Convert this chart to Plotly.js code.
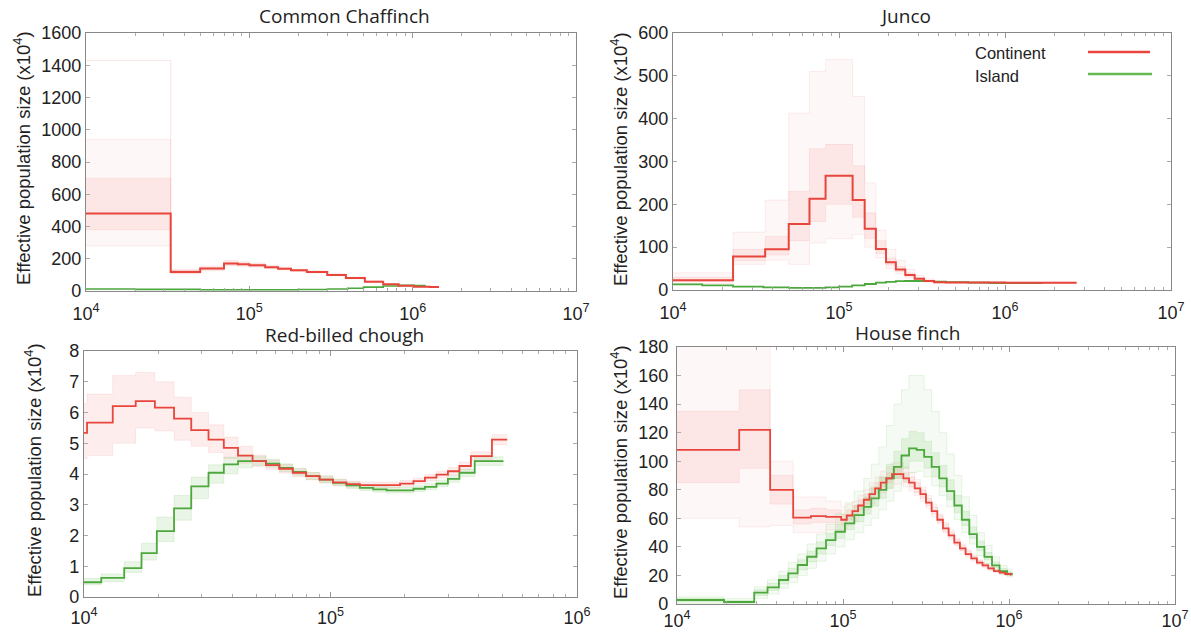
<!DOCTYPE html>
<html>
<head>
<meta charset="utf-8">
<script src="https://cdn.plot.ly/plotly-3.0.1.min.js"></script>
<style>html,body{margin:0;padding:0;background:#fff;}#chart{width:1191px;height:634px;}</style>
</head>
<body>
<div id="chart"></div>
<script>
// ---------- Panel titles / labels ----------
var panelTitles = ["Common Chaffinch", "Junco", "Red-billed chough", "House finch"];
var yTitle = "Effective population size (x10<sup>4</sup>)";
var seriesNames = ["Continent", "Island"];
var xTickVals4 = [1e4, 1e5, 1e6, 1e7];
var xTickText4 = ["10<sup>4</sup>", "10<sup>5</sup>", "10<sup>6</sup>", "10<sup>7</sup>"];
var xTickVals3 = [1e4, 1e5, 1e6];
var xTickText3 = ["10<sup>4</sup>", "10<sup>5</sup>", "10<sup>6</sup>"];

// ---------- Common Chaffinch ----------
var chRedT  = [1e4, 33000, 50000, 70000, 85000, 100000, 125000, 150000, 180000, 225000, 300000, 390000, 510000, 660000, 820000, 1020000, 1270000, 1450000];
var chRedV  = [481, 118, 139, 170, 166, 160, 148, 138, 128, 118, 100, 80, 58, 42, 32, 27, 25, 25];
var chRedLo = [280, 105, 125, 155, 152, 148, 138, 130, 121, 111, 94, 75, 54, 39, 30, 25, 23, 23];
var chRedHi = [940, 135, 155, 190, 182, 174, 160, 148, 137, 126, 107, 86, 63, 46, 35, 30, 28, 28];
var chRedLo2 = [380, 110, 130, 160, 158, 152, 142, 133, 124, 114, 97, 77, 56, 40, 31, 26, 24, 24];
var chRedHi2 = [700, 128, 148, 180, 175, 168, 155, 143, 133, 122, 104, 83, 61, 44, 34, 28.5, 26, 26];
var chRedOutT = [1e4, 33000, 50000];
var chRedOutV = [1430, 125, 125];
var chGreenT = [1e4, 20000, 50000, 100000, 200000, 300000, 400000, 500000, 660000, 820000, 1020000, 1200000];
var chGreenV = [12, 10, 8, 8, 9, 12, 17, 24, 31, 35, 34, 34];

// ---------- Junco ----------
var juRedT  = [1e4, 23000, 35900, 49800, 66400, 83000, 120800, 142800, 166800, 192000, 220000, 250700, 285600, 325300, 374000, 440000, 1000000, 2700000];
var juRedV  = [23, 78, 95, 154, 213, 267, 210, 143, 96, 65, 48, 35, 26.5, 21, 18, 17.5, 17, 17];
var juRedLo = [15, 60, 70, 60, 110, 120, 130, 100, 75, 50, 38, 28, 22, 18, 16, 15.5, 15.5, 15.5];
var juRedHi = [40, 135, 210, 413, 510, 538, 452, 250, 140, 95, 70, 48, 34, 26, 21, 19.5, 18.5, 18.5];
var juRedLo2 = [20, 68, 82, 115, 160, 200, 170, 120, 85, 58, 43, 32, 24, 19.5, 17, 16.5, 16, 16];
var juRedHi2 = [30, 95, 125, 230, 330, 340, 290, 180, 115, 75, 55, 40, 29, 23, 19.5, 18.5, 18, 18];
var juGreenT = [1e4, 15000, 23000, 35000, 50000, 66000, 83000, 100000, 120000, 143000, 167000, 192000, 220000, 250000, 286000, 325000, 374000, 440000, 600000, 800000, 1100000, 1670000];
var juGreenV = [13, 11, 8, 6, 5, 5, 6, 8, 11, 14, 17, 19, 20.5, 21, 21, 20.5, 19.5, 18.5, 17, 16, 16, 16.5];

// ---------- Red-billed chough ----------
var rbRedT  = [1e4, 10290, 13080, 16210, 19390, 23190, 27230, 32000, 36920, 42150, 48290, 54720, 62020, 70290, 79660, 90290, 102300, 116000, 131500, 149000, 168900, 191500, 217000, 241600, 269000, 299500, 333400, 371200, 451800, 521400];
var rbRedV  = [5.34, 5.67, 6.21, 6.37, 6.16, 5.80, 5.43, 5.12, 4.85, 4.60, 4.42, 4.29, 4.17, 4.04, 3.93, 3.82, 3.73, 3.67, 3.64, 3.64, 3.64, 3.69, 3.77, 3.88, 3.98, 4.09, 4.26, 4.58, 5.12, 5.12];
var rbRedLo = [4.5, 4.6, 5.0, 5.5, 5.4, 5.1, 4.9, 4.7, 4.5, 4.35, 4.25, 4.15, 4.03, 3.91, 3.81, 3.71, 3.63, 3.57, 3.55, 3.55, 3.55, 3.60, 3.68, 3.78, 3.87, 3.97, 4.13, 4.44, 4.95, 4.95];
var rbRedHi = [6.3, 6.6, 7.2, 7.3, 7.0, 6.5, 6.0, 5.6, 5.2, 4.9, 4.62, 4.45, 4.31, 4.17, 4.05, 3.94, 3.84, 3.77, 3.74, 3.74, 3.74, 3.79, 3.87, 3.98, 4.09, 4.21, 4.39, 4.72, 5.28, 5.28];
var rbGreenT  = [1e4, 11750, 14560, 17110, 19740, 23190, 27230, 32000, 36920, 42150, 48290, 54720, 62020, 70290, 79660, 90290, 102300, 116000, 131500, 149000, 168900, 191500, 217000, 241600, 269000, 299500, 333400, 384600, 503000];
var rbGreenV  = [0.48, 0.62, 0.94, 1.43, 2.14, 2.88, 3.60, 4.04, 4.31, 4.42, 4.42, 4.34, 4.20, 4.07, 3.93, 3.82, 3.71, 3.63, 3.55, 3.50, 3.47, 3.47, 3.52, 3.58, 3.69, 3.84, 4.04, 4.42, 4.42];
var rbGreenLo = [0.4, 0.5, 0.8, 1.2, 1.8, 2.5, 3.2, 3.7, 4.0, 4.2, 4.28, 4.22, 4.08, 3.96, 3.82, 3.71, 3.61, 3.53, 3.46, 3.41, 3.38, 3.38, 3.43, 3.49, 3.59, 3.73, 3.92, 4.28, 4.28];
var rbGreenHi = [0.6, 0.75, 1.15, 1.75, 2.6, 3.3, 3.9, 4.3, 4.55, 4.62, 4.58, 4.48, 4.33, 4.19, 4.05, 3.93, 3.82, 3.74, 3.65, 3.6, 3.57, 3.57, 3.62, 3.68, 3.8, 3.95, 4.16, 4.56, 4.56];

// ---------- House finch ----------
var hfRedT  = [1e4, 23700, 36400, 50100, 64100, 79000, 97500, 105400, 114000, 123300, 133400, 144300, 156100, 168800, 182600, 197500, 213600, 231000, 249900, 270300, 292400, 316200, 342000, 369900, 400100, 432800, 468100, 506300, 547700, 592400, 640700, 693000, 749600, 810800, 877000, 948500, 1026000];
var hfRedV  = [108, 122, 80, 60.5, 61.5, 61, 59, 62, 65, 69, 73, 77, 81, 85, 88, 91, 91, 88, 85, 81, 77, 71, 65, 59, 53, 48, 43, 39, 35, 32, 29, 27, 25, 23, 22, 21, 20];
var hfRedLo = [60, 54, 55, 50, 50, 52, 52, 55, 58, 62, 66, 70, 74, 78, 81, 84, 84, 82, 79, 76, 72, 67, 61, 56, 50, 45, 41, 37, 33, 30, 27.5, 25.5, 23.5, 22, 21, 20, 19];
var hfRedHi = [200, 200, 100, 75, 75, 72, 68, 70, 72, 76, 80, 85, 89, 93, 96, 99, 99, 96, 92, 87, 82, 76, 70, 63, 57, 52, 46, 42, 38, 34, 31, 28.5, 26.5, 24.5, 23, 22, 21];
var hfRedLo2 = [85, 95, 70, 56, 57, 57, 56, 59, 62, 66, 70, 74, 78, 82, 85, 88, 88, 85, 82, 78, 74, 69, 63, 57, 51, 46.5, 41.5, 37.5, 34, 31, 28, 26, 24, 22.5, 21.5, 20.5, 19.5];
var hfRedHi2 = [135, 150, 90, 66, 67, 66, 63, 66, 69, 73, 77, 81, 85, 89, 92, 95, 95, 92, 89, 85, 80, 74, 68, 62, 56, 50.5, 45, 41, 37, 33.5, 30.5, 28, 26, 24, 22.5, 21.5, 20.5];
var hfGreenT  = [1e4, 19200, 29200, 35100, 41100, 46800, 53300, 60800, 69300, 79000, 90100, 102700, 117000, 133400, 148000, 164300, 182600, 202600, 225000, 249900, 277500, 308200, 342000, 380000, 421800, 468100, 519600, 576700, 640700, 711000, 790000, 877000, 974000, 1054000];
var hfGreenV  = [2.8, 1.4, 7.9, 11.7, 16.8, 21.4, 27.3, 33.1, 38.9, 44.8, 50.6, 56.4, 62.3, 68, 74, 80, 88, 96, 104, 109, 108, 103, 96, 88, 79, 69, 59, 49, 40, 33, 27, 23, 21, 21];
var hfGreenLo = [0.5, 0, 4, 7, 11, 15, 20, 25, 30, 35, 40, 45, 50, 55, 60, 66, 72, 79, 86, 92, 93, 89, 83, 76, 68, 59, 50, 42, 34, 28, 24, 20.5, 19, 19];
var hfGreenHi = [5, 4, 12, 17, 23, 29, 35, 42, 49, 56, 63, 71, 79, 88, 98, 110, 125, 140, 150, 160, 160, 150, 135, 120, 105, 90, 75, 62, 50, 41, 33, 27, 24, 24];
var hfGreenLo2 = [1.5, 0.8, 6, 9.5, 14, 18.5, 24, 29.5, 35, 41, 46, 52, 57.5, 63, 68.5, 74, 81, 88, 95, 100, 100, 95, 89, 82, 73, 64, 55, 46, 37.5, 31, 25.5, 22, 20, 20];
var hfGreenHi2 = [4, 2.5, 10, 14.5, 20, 25, 31, 37, 43.5, 49.5, 56, 62, 69, 75, 82, 89, 98, 107, 116, 121, 120, 114, 106, 97, 87, 76, 65, 54, 44, 36, 29.5, 25, 22.5, 22.5];

// ---------- styling ----------
var RED = "rgb(232,70,60)", GREEN = "rgb(76,168,60)";
var RED_FILL_OUT = "rgba(245,120,120,0.06)", RED_FILL_IN = "rgba(240,110,110,0.12)", RED_EDGE = "rgba(240,120,120,0.22)";
var GREEN_FILL_OUT = "rgba(120,200,100,0.07)", GREEN_FILL_IN = "rgba(110,190,90,0.15)", GREEN_EDGE = "rgba(120,200,100,0.28)";

var traces = [];
function step(t, v, ax, color, width) {
  traces.push({x: t, y: v, xaxis: "x" + ax, yaxis: "y" + ax, mode: "lines", type: "scatter",
    line: {shape: "hv", color: color, width: width}, hoverinfo: "skip", showlegend: false});
}
function band(t, lo, hi, ax, fill, edge) {
  traces.push({x: t, y: lo, xaxis: "x" + ax, yaxis: "y" + ax, mode: "lines", type: "scatter",
    line: {shape: "hv", color: edge, width: 0.6}, hoverinfo: "skip", showlegend: false});
  traces.push({x: t, y: hi, xaxis: "x" + ax, yaxis: "y" + ax, mode: "lines", type: "scatter", fill: "tonexty", fillcolor: fill,
    line: {shape: "hv", color: edge, width: 0.6}, hoverinfo: "skip", showlegend: false});
}

// Panel 1
band(chRedT, chRedLo, chRedHi, "", RED_FILL_OUT, RED_EDGE);
band(chRedT, chRedLo2, chRedHi2, "", RED_FILL_IN, RED_EDGE);
step(chRedOutT, chRedOutV, "", "rgba(240,130,130,0.3)", 0.7);
step(chGreenT, chGreenV, "", GREEN, 1.6);
step(chRedT, chRedV, "", RED, 2);
// Panel 2
band(juRedT, juRedLo, juRedHi, "2", RED_FILL_OUT, RED_EDGE);
band(juRedT, juRedLo2, juRedHi2, "2", RED_FILL_IN, RED_EDGE);
step(juGreenT, juGreenV, "2", GREEN, 1.8);
step(juRedT, juRedV, "2", RED, 2);
// Panel 3
band(rbRedT, rbRedLo, rbRedHi, "3", RED_FILL_IN, RED_EDGE);
band(rbGreenT, rbGreenLo, rbGreenHi, "3", GREEN_FILL_IN, GREEN_EDGE);
step(rbGreenT, rbGreenV, "3", GREEN, 1.8);
step(rbRedT, rbRedV, "3", RED, 1.8);
// Panel 4
band(hfRedT, hfRedLo, hfRedHi, "4", RED_FILL_OUT, RED_EDGE);
band(hfRedT, hfRedLo2, hfRedHi2, "4", RED_FILL_IN, RED_EDGE);
band(hfGreenT, hfGreenLo, hfGreenHi, "4", GREEN_FILL_OUT, GREEN_EDGE);
band(hfGreenT, hfGreenLo2, hfGreenHi2, "4", GREEN_FILL_IN, GREEN_EDGE);
step(hfGreenT, hfGreenV, "4", GREEN, 1.8);
step(hfRedT, hfRedV, "4", RED, 1.8);

// ---------- layout ----------
var W = 1191, H = 634;
function dx(a, b) { return [a / W, b / W]; }
function dy(top, bottom) { return [1 - bottom / H, 1 - top / H]; }
function minorVals(lo, hi) {
  var out = [];
  for (var e = lo; e < hi; e++) for (var m = 2; m <= 9; m++) out.push(m * Math.pow(10, e));
  return out;
}
var tickFont = {family: "Liberation Sans, Arial, sans-serif", size: 18, color: "#222"};
function xaxis(domain, anchor, maxExp, vals, text, standoff) {
  return {type: "log", domain: domain, anchor: anchor, range: [4, maxExp], tickmode: "array", tickvals: vals, ticktext: text,
    ticks: "inside", ticklen: 5, tickcolor: "#999", showline: true, linecolor: "#888", linewidth: 1.2, mirror: "allticks",
    showgrid: false, zeroline: false, tickfont: tickFont, ticklabelstandoff: standoff,
    minor: {tickmode: "array", tickvals: minorVals(4, maxExp), ticks: "inside", ticklen: 3, tickcolor: "#aaa", showgrid: false}};
}
function yaxis(domain, anchor, max, dtick, standoff) {
  return {domain: domain, anchor: anchor, range: [0, max], dtick: dtick, tick0: 0,
    ticks: "inside", ticklen: 4, tickcolor: "#aaa", showline: true, linecolor: "#888", linewidth: 1.2, mirror: "allticks",
    showgrid: false, zeroline: false, tickfont: tickFont, ticklabelstandoff: standoff};
}

var titleFont = {family: "Open Sans, Noto Sans, sans-serif", size: 19, color: "#222"};
var ytFont = {family: "Liberation Sans, Arial, sans-serif", size: 18.5, color: "#222"};
var legFont = {family: "Liberation Sans, Arial, sans-serif", size: 16.5, color: "#222"};
var annotations = [
  {text: panelTitles[0], x: 344 / W, y: 1 - 16 / H},
  {text: panelTitles[1], x: 906 / W, y: 1 - 16 / H},
  {text: panelTitles[2], x: 344 / W, y: 1 - 335 / H},
  {text: panelTitles[3], x: 907 / W, y: 1 - 333 / H}
].map(function (a) { return Object.assign(a, {xref: "paper", yref: "paper", showarrow: false, font: titleFont, xanchor: "center", yanchor: "middle"}); });
[[22, 158], [619, 159], [33, 470], [619, 472]].forEach(function (p) {
  annotations.push({text: yTitle, x: p[0] / W, y: 1 - p[1] / H, xref: "paper", yref: "paper", showarrow: false,
    textangle: -90, font: ytFont, xanchor: "center", yanchor: "middle"});
});
annotations.push({text: seriesNames[0], x: 973 / W, y: 1 - 53 / H, xref: "paper", yref: "paper", showarrow: false, font: legFont, xanchor: "left", yanchor: "middle"});
annotations.push({text: seriesNames[1], x: 973 / W, y: 1 - 76 / H, xref: "paper", yref: "paper", showarrow: false, font: legFont, xanchor: "left", yanchor: "middle"});

var shapes = [
  {type: "line", xref: "paper", yref: "paper", x0: 1088 / W, x1: 1150 / W, y0: 1 - 52 / H, y1: 1 - 52 / H, line: {color: RED, width: 2.5}},
  {type: "line", xref: "paper", yref: "paper", x0: 1088 / W, x1: 1152 / W, y0: 1 - 74 / H, y1: 1 - 74 / H, line: {color: "rgb(100,185,80)", width: 2.5}}
];

var layout = {
  width: W, height: H, margin: {l: 0, r: 0, t: 0, b: 0}, paper_bgcolor: "#fff", plot_bgcolor: "#fff", showlegend: false,
  xaxis: xaxis(dx(86, 576), "y", 7, xTickVals4, xTickText4, 6),
  yaxis: yaxis(dy(33, 291), "x", 1600, 200, 0),
  xaxis2: xaxis(dx(673, 1171), "y2", 7, xTickVals4, xTickText4, 6),
  yaxis2: yaxis(dy(33, 290), "x2", 600, 100, 0),
  xaxis3: xaxis(dx(84, 577), "y3", 6, xTickVals3, xTickText3, 4),
  yaxis3: yaxis(dy(351, 597), "x3", 8, 1, 0),
  xaxis4: xaxis(dx(677, 1175), "y4", 7, xTickVals4, xTickText4, 0),
  yaxis4: yaxis(dy(347, 604), "x4", 180, 20, 4),
  annotations: annotations, shapes: shapes
};

Plotly.newPlot("chart", traces, layout, {staticPlot: true, displayModeBar: false});
</script>
</body>
</html>
